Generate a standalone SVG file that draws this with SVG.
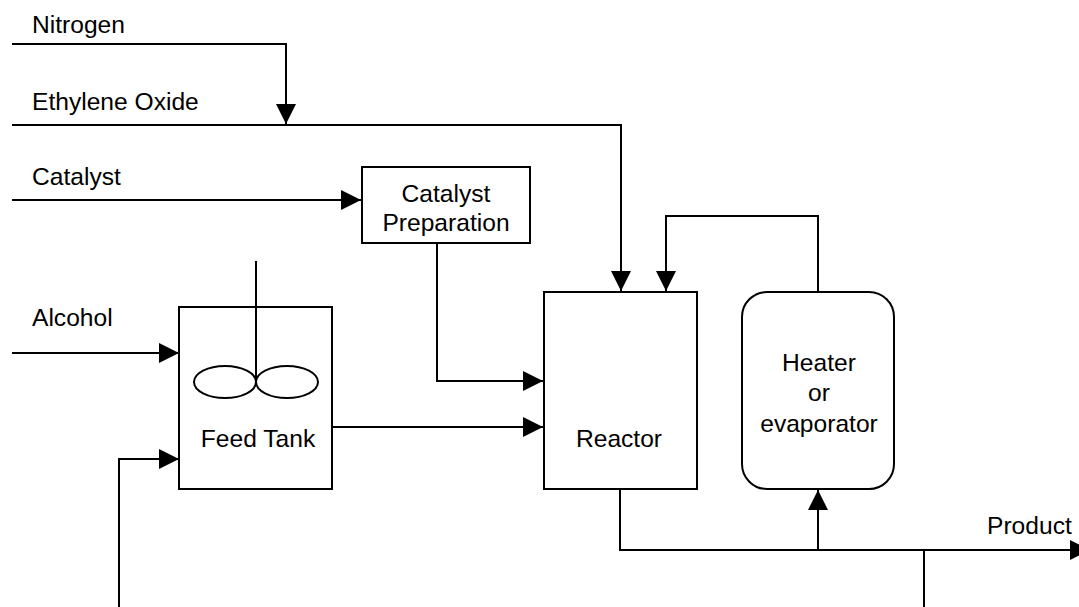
<svg xmlns="http://www.w3.org/2000/svg" width="1079" height="607" viewBox="0 0 1079 607">
<style>
.ln{fill:none;stroke:#000;stroke-width:2}
.bx{fill:#fff;stroke:#000;stroke-width:2}
text{font-family:"Liberation Sans",Arial,sans-serif;font-size:24.6px;fill:#000}
.c{text-anchor:middle}
</style>
<defs>
<marker id="ah" markerUnits="userSpaceOnUse" markerWidth="20" markerHeight="20" viewBox="0 0 19 19" refX="19" refY="9.5" orient="auto">
<path d="M0,0 L19,9.5 L0,19 Z" fill="#000"/>
</marker>
</defs>
<rect width="1079" height="607" fill="#fff"/>
<g id="labels">
<text x="32" y="33">Nitrogen</text>
<text x="32" y="110">Ethylene Oxide</text>
<text x="32" y="185">Catalyst</text>
<text x="32" y="326">Alcohol</text>
<text x="987" y="534">Product</text>
</g>
<g id="connectors">
<path class="ln" d="M12,44 H286 V124" marker-end="url(#ah)"/>
<path class="ln" d="M12,125 H621 V291" marker-end="url(#ah)"/>
<path class="ln" d="M12,200 H361" marker-end="url(#ah)"/>
<path class="ln" d="M437,243 V381 H543" marker-end="url(#ah)"/>
<path class="ln" d="M818,291 V216 H666 V291" marker-end="url(#ah)"/>
<path class="ln" d="M12,353 H179" marker-end="url(#ah)"/>
<path class="ln" d="M119,607 V459 H179" marker-end="url(#ah)"/>
<path class="ln" d="M332,427 H543" marker-end="url(#ah)"/>
<path class="ln" d="M620,490 V550 H1090" marker-end="url(#ah)"/>
<path class="ln" d="M818,550 V490" marker-end="url(#ah)"/>
<path class="ln" d="M924,550 V607"/>
</g>
<g id="catalyst-prep">
<rect class="bx" x="362" y="167" width="168" height="76"/>
<text class="c" x="446" y="202">Catalyst</text>
<text class="c" x="446" y="231">Preparation</text>
</g>
<g id="feed-tank">
<rect class="bx" x="179" y="307" width="153" height="182"/>
<line class="ln" x1="256" y1="261" x2="256" y2="382"/>
<ellipse class="ln" cx="225" cy="382" rx="31" ry="16"/>
<ellipse class="ln" cx="287" cy="382" rx="31" ry="16"/>
<text class="c" x="258" y="447">Feed Tank</text>
</g>
<g id="reactor">
<rect class="bx" x="544" y="292" width="153" height="197"/>
<text class="c" x="619" y="447">Reactor</text>
</g>
<g id="heater">
<rect class="bx" x="742" y="292" width="152" height="197" rx="25" ry="25"/>
<text class="c" x="819" y="371">Heater</text>
<text class="c" x="819" y="401">or</text>
<text class="c" x="819" y="432">evaporator</text>
</g>
</svg>
